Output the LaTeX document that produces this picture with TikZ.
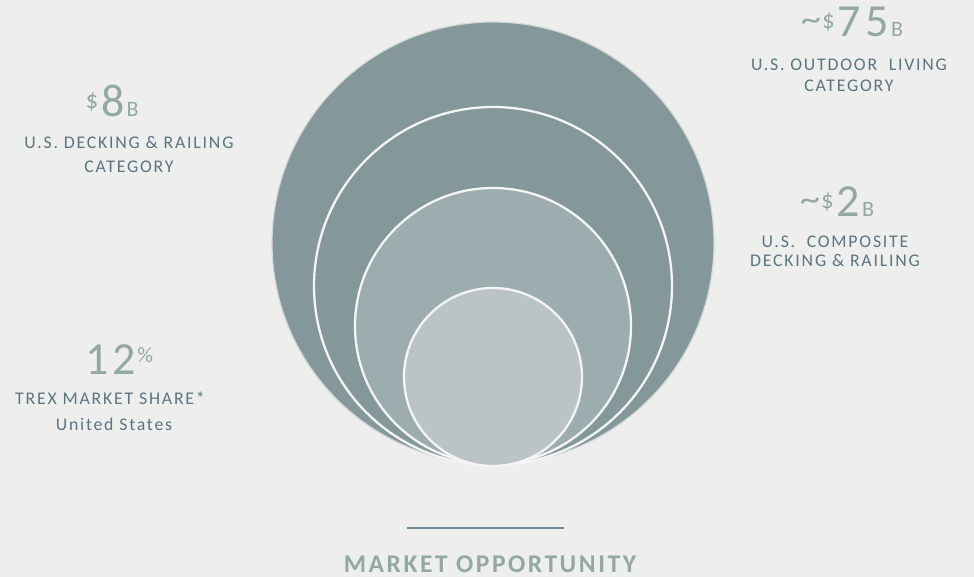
\documentclass[tikz,border=0pt]{standalone}
\usepackage{fontspec}
\setmainfont{Carlito}
\newfontfamily\lblfont[LetterSpace=10]{Carlito}
\newfontfamily\numfont[LetterSpace=10]{Carlito}
\newfontfamily\ttlfont[LetterSpace=10]{Carlito}
\definecolor{bgc}{HTML}{EEEFED}
\definecolor{numc}{HTML}{93A8A2}
\definecolor{lblc}{HTML}{5A7482}
\definecolor{ttlc}{HTML}{94A8A3}
\definecolor{rulec}{HTML}{6F8C99}
\definecolor{cA}{HTML}{84979A}
\definecolor{cB}{HTML}{9DACAF}
\definecolor{cC}{HTML}{BAC4C5}
\definecolor{ringc}{HTML}{F3F4F3}
\newcommand\smallpart[2]{{\numfont\fontsize{22}{22}\selectfont\raisebox{#1}{#2}}}
\newcommand\dollarpart{{\numfont\fontsize{25}{25}\selectfont\raisebox{8pt}{\$}}}
\newcommand\tildepart{{\numfont\fontsize{24}{24}\selectfont\raisebox{6pt}{\scalebox{1.7}[1.4]{\symbol{"7E}}}}}
\newcommand\bigpart[1]{{\numfont\fontsize{46}{46}\selectfont #1}}
\begin{document}
\begin{tikzpicture}[x=1pt,y=-1pt,
  numtxt/.style={text=numc, inner sep=0pt, anchor=base},
  lbltxt/.style={text=lblc, inner sep=0pt, anchor=base, font=\lblfont\fontsize{17.8}{17.8}\selectfont},
  ring/.style={circle, inner sep=0pt, outer sep=0pt, draw=ringc, line width=2.3pt},
]
\fill[bgc] (0,0) rectangle (974,577);
\useasboundingbox (0,0) rectangle (974,577);

% circles
\node[ring, fill=cA, draw=ringc!70!cA, line width=1.2pt, minimum size=442pt] (c1) at (493,243) {};
\node[ring, fill=cA, minimum size=358pt] (c2) at (493,286) {};
\node[ring, fill=cB, minimum size=276pt] (c3) at (493,326) {};
\node[ring, fill=cC, minimum size=178pt] (c4) at (493,377) {};

% top right
\node[numtxt] (n75) at (852,37) {\tildepart\hspace{1pt}\dollarpart\hspace{3pt}\bigpart{75}\hspace{2pt}\smallpart{0pt}{B}};
\node[lbltxt] (l75a) at (849,71) {U.S.\ OUTDOOR\ \ LIVING};
\node[lbltxt] (l75b) at (849,92) {CATEGORY};

% top left
\node[numtxt] (n8) at (112,117) {\dollarpart\hspace{3pt}\bigpart{8}\hspace{2pt}\smallpart{0pt}{B}};
\node[lbltxt] (l8a) at (129,149) {U.S. DECKING \& RAILING};
\node[lbltxt] (l8b) at (129,173) {CATEGORY};

% right middle
\node[numtxt] (n2) at (837,217) {\tildepart\hspace{1pt}\dollarpart\hspace{3pt}\bigpart{2}\hspace{2pt}\smallpart{0pt}{B}};
\node[lbltxt] (l2a) at (835,248) {U.S.\ \ COMPOSITE};
\node[lbltxt] (l2b) at (835,267) {DECKING \& RAILING};

% left lower
\node[numtxt] (n12) at (119,374) {\bigpart{12}\hspace{1pt}\smallpart{12pt}{\%}};
\node[lbltxt] (l12a) at (110,404) {TREX MARKET SHARE*};
\node[lbltxt] (l12b) at (114,430) {United States};

% bottom title
\coordinate (r1) at (407,528);
\coordinate (r2) at (564,528);
\draw[rulec, line width=1.5pt] (r1) -- (r2);
\node[text=ttlc, inner sep=0pt, anchor=base, font=\ttlfont\bfseries\fontsize{25.5}{25.5}\selectfont] (ttl) at (490,572) {MARKET OPPORTUNITY};
\end{tikzpicture}
\end{document}
